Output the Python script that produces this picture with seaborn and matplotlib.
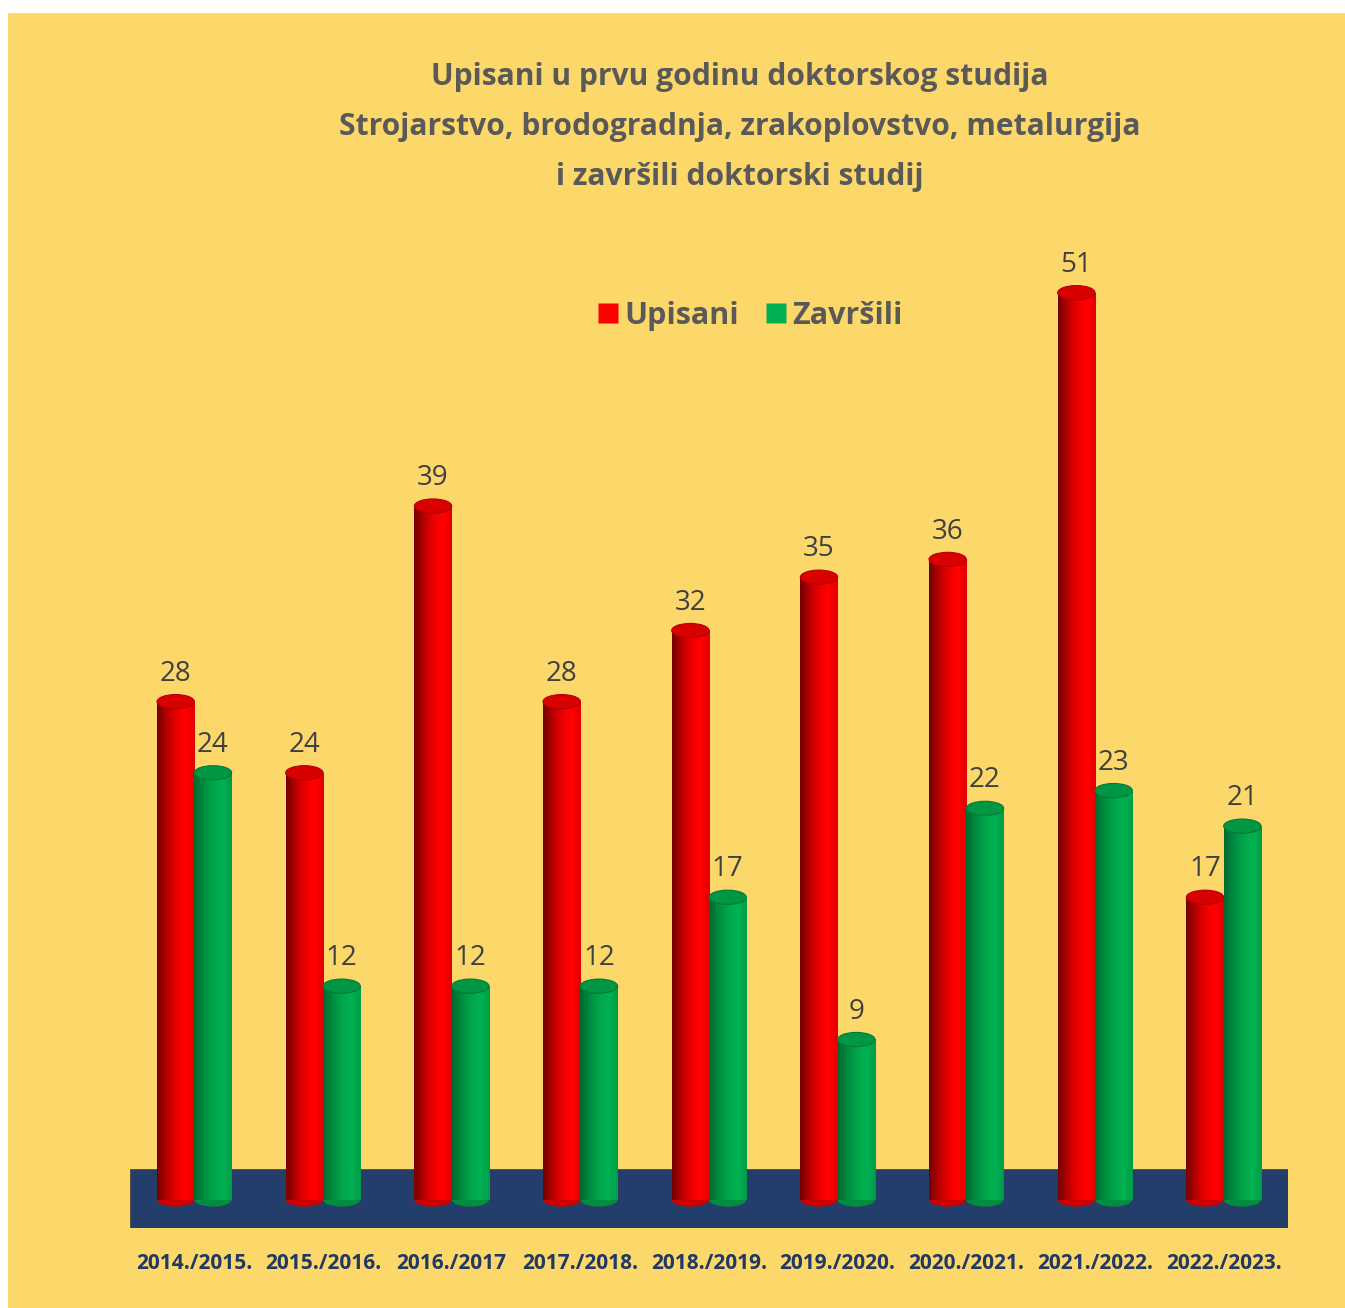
import matplotlib
matplotlib.use("Agg")
import matplotlib.pyplot as plt
import seaborn as sns
import numpy as np
import pandas as pd
from matplotlib.patches import Ellipse, Rectangle
from matplotlib.lines import Line2D
from matplotlib.colors import to_rgb

# Podaci
godine = ['2014./2015.', '2015./2016.', '2016./2017', '2017./2018.', '2018./2019.',
          '2019./2020.', '2020./2021.', '2021./2022.', '2022./2023.']
upisani = [28, 24, 39, 28, 32, 35, 36, 51, 17]
zavrsili = [24, 12, 12, 12, 17, 9, 22, 23, 21]
serije = ['Upisani', 'Završili']

boje = {'Upisani': '#FF0000', 'Završili': '#00B050'}
ZUTA = '#FCD76A'
PLAVA = '#243E6B'
SIVA = '#595959'

df = pd.DataFrame({
    'godina': godine * 2,
    'serija': ['Upisani'] * len(godine) + ['Završili'] * len(godine),
    'broj': upisani + zavrsili,
})

sns.set_style('white')
plt.rcParams['font.family'] = ['Open Sans', 'DejaVu Sans']

fig = plt.figure(figsize=(13.45, 13.08), dpi=100)
fig.patch.set_facecolor('white')
fig.add_artist(Rectangle((8 / 1345, 0), 1, 1 - 13 / 1308, transform=fig.transFigure,
                         facecolor=ZUTA, edgecolor='none', zorder=-10))

ax = fig.add_axes([130 / 1345, 80 / 1308, 1158 / 1345, 978 / 1308])
ax.set_facecolor('none')

sns.barplot(data=df, x='godina', y='broj', hue='serija', hue_order=serije,
            palette=boje, width=0.58, gap=0, ax=ax, legend=False, zorder=3)

ax.set_xlim(-0.5, 8.5)
ax.set_ylim(-1.6, 53.4)

# "pod" ispod stupaca
ax.add_patch(Rectangle((-0.5, -1.6), 9, 3.3, facecolor=PLAVA, edgecolor='#4a4a4a',
                       linewidth=0.6, zorder=1))

# cilindricno sjencanje
def gradijent(boja, tamno):
    r, g, b = to_rgb(boja)
    t = np.linspace(0, 1, 64)
    svj = tamno + (1 - tamno) * np.sin(np.clip(t * 1.25, 0, 1) * np.pi / 2) - 0.6 * np.clip(t - 0.8, 0, 1)
    svj = np.clip(svj, 0, 1)
    img = np.stack([r * svj, g * svj, b * svj], axis=-1)
    return img[np.newaxis, :, :]

for cont, serija in zip(ax.containers, serije):
    boja = boje[serija]
    img = gradijent(boja, 0.45 if serija == 'Upisani' else 0.6)
    for rect in cont:
        x0 = rect.get_x()
        w = rect.get_width()
        h = rect.get_height()
        cx = x0 + w / 2
        rect.set_visible(False)
        # donja elipsa
        ax.add_patch(Ellipse((cx, 0), w, 0.8, facecolor=tuple(c * 0.8 for c in to_rgb(boja)),
                             edgecolor='none', zorder=2.5))
        ax.imshow(img, extent=[x0, x0 + w, 0, h], aspect='auto', zorder=3,
                  interpolation='bicubic')
        # gornja elipsa
        ax.add_patch(Ellipse((cx, h), w, 0.8, facecolor=tuple(c * 0.85 for c in to_rgb(boja)),
                             edgecolor=tuple(c * 0.7 for c in to_rgb(boja)), linewidth=0.8,
                             zorder=4))
        ax.annotate(f'{int(h)}', (cx, h), xytext=(0, 10), textcoords='offset points',
                    ha='center', va='bottom', fontsize=20, color='#404040', zorder=5)

ax.set_xlim(-0.5, 8.5)
ax.set_ylim(-1.6, 53.4)

for s in ax.spines.values():
    s.set_visible(False)
ax.set_yticks([])
ax.set_xlabel('')
ax.set_ylabel('')
ax.tick_params(axis='x', length=0, pad=18)
ax.set_xticks(range(len(godine)))
ax.set_xticklabels(godine, fontsize=15, fontweight='bold', color='#1F3864')

fig.text(740 / 1345, 1 - 127 / 1308,
         'Upisani u prvu godinu doktorskog studija\n'
         'Strojarstvo, brodogradnja, zrakoplovstvo, metalurgija\n'
         'i završili doktorski studij',
         ha='center', va='center', fontsize=21.6, fontweight='bold', color=SIVA,
         linespacing=1.88)

ruke = [Line2D([0], [0], marker='s', linestyle='none', markersize=14.5,
               markerfacecolor=boje[s], markeredgecolor='none', label=s) for s in serije]
leg = fig.legend(handles=ruke, loc='center', bbox_to_anchor=(750 / 1345, 1 - 316 / 1308),
                 ncol=2, frameon=False, handlelength=0.7, handletextpad=0.2,
                 columnspacing=0.85, prop={'size': 22, 'weight': 'bold'})
for t in leg.get_texts():
    t.set_color(SIVA)

fig.savefig('out.png', dpi=100)
